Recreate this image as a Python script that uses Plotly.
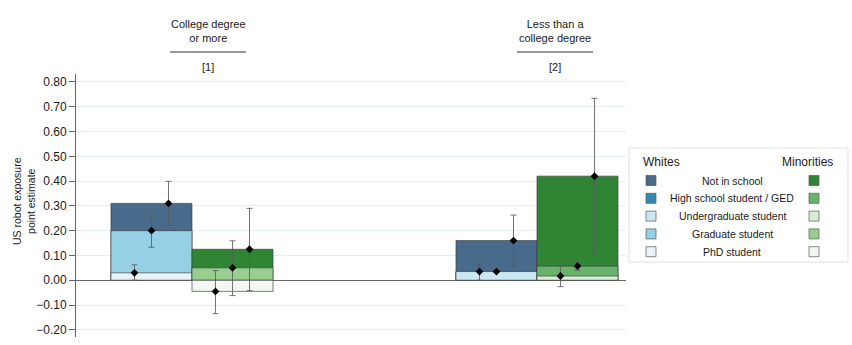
import plotly.graph_objects as go

# Sample groups and their header text
group_pos = [1.0, 2.0]
group_titles = ["College degree<br>or more", "Less than a<br>college degree"]
group_tags = ["[1]", "[2]"]

# School status categories (legend order)
statuses = ["Not in school", "High school student / GED", "Undergraduate student",
            "Graduate student", "PhD student"]
white_colors = ["#486a8b", "#2f8bb4", "#cbe7ef", "#96d0e4", "#e9f3f7"]
minority_colors = ["#2f8534", "#67b46a", "#d6edd2", "#98cf90", "#f2f8f1"]

# Point estimates and 95% intervals, per group (college, less than college)
college_status = ["PhD student", "Graduate student", "Not in school"]
less_status = ["Undergraduate student", "High school student / GED", "Not in school"]

white_college_est = [0.030, 0.200, 0.310]
white_college_lo = [0.000, 0.133, 0.221]
white_college_hi = [0.062, 0.257, 0.399]

minority_college_est = [-0.045, 0.050, 0.125]
minority_college_lo = [-0.135, -0.062, -0.042]
minority_college_hi = [0.039, 0.159, 0.290]

white_less_est = [0.035, 0.035, 0.160]
white_less_lo = [0.000, 0.032, 0.057]
white_less_hi = [0.062, 0.038, 0.263]

minority_less_est = [0.017, 0.057, 0.420]
minority_less_lo = [-0.026, 0.040, 0.106]
minority_less_hi = [0.057, 0.071, 0.734]

y_ticks = [-0.2, -0.1, 0.0, 0.1, 0.2, 0.3, 0.4, 0.5, 0.6, 0.7, 0.8]

# Geometry in axis units
BAR_W = 0.2348
PT_OFF = 0.0493
X_RANGE = [0.6638, 2.258]
Y_RANGE = [-0.229, 0.832]

# Plot area in pixels (used to place the header and legend decorations)
W, H = 852, 345
ML, MR, MT, MB = 76, 226, 74, 8
PW, PH = W - ML - MR, H - MT - MB


def px_x(px):
    return (px - ML) / PW


def px_y(py):
    return (H - MB - py) / PH


cells = [
    # (group index, race side, statuses, est, lo, hi, colors)
    (0, -1, college_status, white_college_est, white_college_lo, white_college_hi, white_colors),
    (0, +1, college_status, minority_college_est, minority_college_lo, minority_college_hi, minority_colors),
    (1, -1, less_status, white_less_est, white_less_lo, white_less_hi, white_colors),
    (1, +1, less_status, minority_less_est, minority_less_lo, minority_less_hi, minority_colors),
]

fig = go.Figure()

# Overlaid bars: larger categories drawn first so smaller ones sit on top
draw_order = ["Not in school", "Graduate student", "High school student / GED",
              "Undergraduate student", "PhD student"]
for side, colors in [(-1, white_colors), (+1, minority_colors)]:
    for st in draw_order:
        xs, ys = [], []
        for gi, sd, sts, est, lo, hi, cols in cells:
            if sd != side or st not in sts:
                continue
            xs.append(group_pos[gi] + side * BAR_W / 2)
            ys.append(est[sts.index(st)])
        if not xs:
            continue
        fig.add_trace(go.Bar(
            x=xs, y=ys, width=BAR_W, base=0,
            marker=dict(color=colors[statuses.index(st)],
                        line=dict(color="rgba(60,60,60,0.65)", width=1)),
            showlegend=False, hoverinfo="skip",
        ))

# Point estimates with confidence intervals
px_, py_, ep, em = [], [], [], []
for gi, sd, sts, est, lo, hi, cols in cells:
    center = group_pos[gi] + sd * BAR_W / 2
    for k in range(3):
        px_.append(center + (k - 1) * PT_OFF)
        py_.append(est[k])
        ep.append(hi[k] - est[k])
        em.append(est[k] - lo[k])

fig.add_trace(go.Scatter(
    x=px_, y=py_, mode="markers",
    marker=dict(symbol="diamond", size=6, color="black"),
    error_y=dict(type="data", symmetric=False, array=ep, arrayminus=em,
                 color="rgba(90,90,90,0.85)", thickness=1, width=3),
    showlegend=False, hoverinfo="skip",
))

font_family = "Liberation Sans, Arial, Helvetica, sans-serif"

fig.update_layout(
    width=W, height=H,
    margin=dict(l=ML, r=MR, t=MT, b=MB),
    paper_bgcolor="white", plot_bgcolor="white",
    barmode="overlay",
    font=dict(family=font_family, size=12, color="#1a1a1a"),
    xaxis=dict(range=X_RANGE, visible=False, showgrid=False, zeroline=False),
    yaxis=dict(
        range=Y_RANGE, tickvals=y_ticks, tickformat=".2f",
        showgrid=True, gridcolor="#e8eff2", gridwidth=1,
        zeroline=True, zerolinecolor="#666666", zerolinewidth=1,
        showline=True, linecolor="#666666", linewidth=1,
        ticks="outside", ticklen=6, tickcolor="#666666",
        tickfont=dict(size=12, color="#1a1a1a"),
    ),
)

shapes = []
annotations = []

# Y axis title
annotations.append(dict(
    xref="paper", yref="paper", x=px_x(24), y=px_y(201),
    text="US robot exposure<br>point estimate", textangle=-90,
    showarrow=False, xanchor="center", yanchor="middle",
    font=dict(size=10.5, color="#1a1a1a"),
))

# Column headers
header_cx = [208, 555]
for cx, title, tag in zip(header_cx, group_titles, group_tags):
    annotations.append(dict(
        xref="paper", yref="paper", x=px_x(cx), y=px_y(31),
        text=title, showarrow=False, xanchor="center", yanchor="middle",
        font=dict(size=11, color="#1a1a1a"),
    ))
    shapes.append(dict(
        type="line", xref="paper", yref="paper",
        x0=px_x(cx - 38), x1=px_x(cx + 38), y0=px_y(52), y1=px_y(52),
        line=dict(color="#333333", width=1),
    ))
    annotations.append(dict(
        xref="paper", yref="paper", x=px_x(cx), y=px_y(67.5),
        text=tag, showarrow=False, xanchor="center", yanchor="middle",
        font=dict(size=11, color="#1a1a1a"),
    ))

# Two-column legend (Whites / Minorities)
shapes.append(dict(
    type="rect", xref="paper", yref="paper",
    x0=px_x(629), x1=px_x(848), y0=px_y(262), y1=px_y(148),
    line=dict(color="#dde3e6", width=1), fillcolor="white", layer="below",
))
annotations.append(dict(
    xref="paper", yref="paper", x=px_x(641), y=px_y(162),
    text="Whites", showarrow=False, xanchor="left", yanchor="middle",
    font=dict(size=12, color="#1a1a1a"),
))
annotations.append(dict(
    xref="paper", yref="paper", x=px_x(835), y=px_y(162),
    text="Minorities", showarrow=False, xanchor="right", yanchor="middle",
    font=dict(size=12, color="#1a1a1a"),
))
for i, st in enumerate(statuses):
    cy = 180.5 + i * 17.8
    for sx, col in [(651, white_colors[i]), (814, minority_colors[i])]:
        shapes.append(dict(
            type="rect", xref="paper", yref="paper",
            x0=px_x(sx - 5), x1=px_x(sx + 5), y0=px_y(cy + 5), y1=px_y(cy - 5),
            line=dict(color="rgba(90,90,90,0.7)", width=1), fillcolor=col,
        ))
    annotations.append(dict(
        xref="paper", yref="paper", x=px_x(732), y=px_y(cy),
        text=st, showarrow=False, xanchor="center", yanchor="middle",
        font=dict(size=10.5, color="#1a1a1a"),
    ))

fig.update_layout(shapes=shapes, annotations=annotations)

fig.write_html("out.html")
